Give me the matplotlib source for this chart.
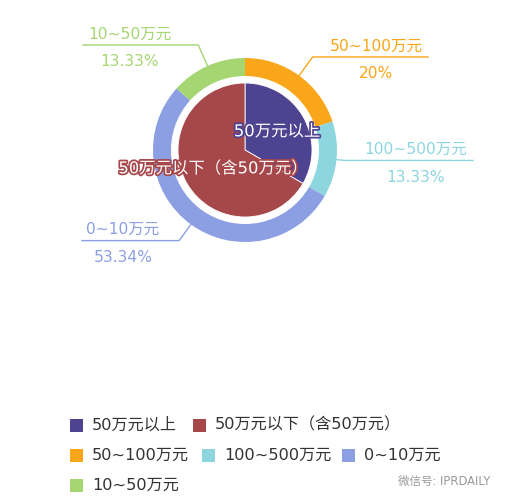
import numpy as np
import matplotlib
matplotlib.use("Agg")
import matplotlib.pyplot as plt
import matplotlib.patheffects as pe
from matplotlib.patches import Rectangle

plt.rcParams['font.family'] = ['DejaVu Sans', 'Noto Sans CJK SC']

# --- данные
inner_names = ['50万元以上', '50万元以下（含50万元）']
inner_values = [33.33, 66.67]
inner_colors = ['#4e4391', '#a6474a']

outer_names = ['50~100万元', '100~500万元', '0~10万元', '10~50万元']
outer_values = [20, 13.33, 53.34, 13.33]
outer_pct = ['20%', '13.33%', '53.34%', '13.33%']
outer_colors = ['#f9a61a', '#8dd6df', '#8c9fe3', '#a5d672']

W, H = 510, 504
CX, CY = 245, 150           # --- центр (пиксели, сверху вниз)
R_OUT, RING_W, R_IN = 92, 18, 67


def fy(py):
    return H - py


fig = plt.figure(figsize=(W / 100, H / 100), dpi=100)
ax = fig.add_axes([0, 0, 1, 1])

ax.pie(outer_values, colors=outer_colors, startangle=90, counterclock=False,
       radius=R_OUT, center=(CX, fy(CY)),
       wedgeprops=dict(width=RING_W, linewidth=0))
ax.pie(inner_values, colors=inner_colors, startangle=90, counterclock=False,
       radius=R_IN, center=(CX, fy(CY)),
       wedgeprops=dict(linewidth=0.6, edgecolor='white'))


def mid_angles(vals):
    vals = np.array(vals, dtype=float)
    cum = np.cumsum(vals) / vals.sum() * 360
    start = 90 - np.concatenate([[0], cum[:-1]])
    end = 90 - cum
    return (start + end) / 2


# --- подписи внутреннего круга
for name, ang, col in zip(inner_names, mid_angles(inner_values), inner_colors):
    a = np.radians(ang)
    x = CX + 37 * np.cos(a)
    y = CY - 37 * np.sin(a)
    ax.text(x, fy(y), name, color='white', fontsize=11.8, ha='center', va='center',
            path_effects=[pe.withStroke(linewidth=2.5, foreground=col)])

# --- выноски внешнего кольца
elbow_r = [115, 100, 112, 115]
line_end = [428, 473, 82, 83]
text_x = [376, 416, 123, 130]
for i, ang in enumerate(mid_angles(outer_values)):
    a = np.radians(ang)
    x0, y0 = CX + R_OUT * np.cos(a), CY - R_OUT * np.sin(a)
    x1, y1 = CX + elbow_r[i] * np.cos(a), CY - elbow_r[i] * np.sin(a)
    col = outer_colors[i]
    ax.plot([x0, x1, line_end[i]], [fy(y0), fy(y1), fy(y1)], color=col, lw=1)
    ax.text(text_x[i], fy(y1 - 11), outer_names[i], color=col, fontsize=11.2,
            ha='center', va='center')
    ax.text(text_x[i], fy(y1 + 17), outer_pct[i], color=col, fontsize=11.2,
            ha='center', va='center')

# --- легенда (поточная раскладка)
legend_names = inner_names + outer_names
legend_colors = inner_colors + outer_colors
legend_pos = [(70, 425), (193, 425), (70, 455), (202, 455), (342, 455), (70, 485)]
for name, col, (lx, ly) in zip(legend_names, legend_colors, legend_pos):
    ax.add_patch(Rectangle((lx, fy(ly + 6.5)), 13, 13, color=col, lw=0))
    ax.text(lx + 22, fy(ly), name, color='#333333', fontsize=11.6, ha='left', va='center')

ax.text(398, fy(481), '微信号: IPRDAILY', color='#999999', fontsize=8.3,
        ha='left', va='center')

ax.set_xlim(0, W)
ax.set_ylim(0, H)
ax.set_aspect('equal')
ax.axis('off')

fig.savefig('out.png', dpi=100, facecolor='white')
